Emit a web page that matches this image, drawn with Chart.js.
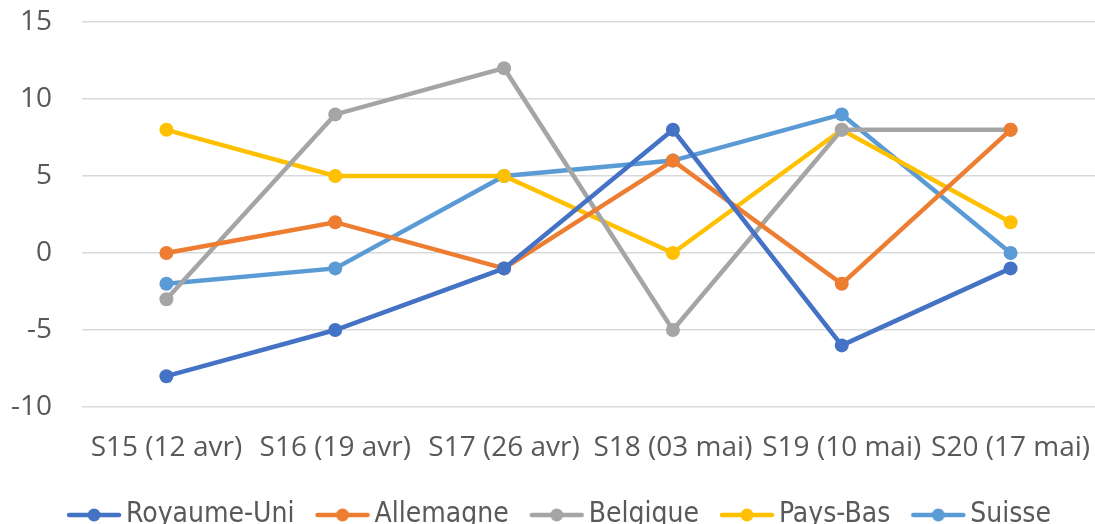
<!DOCTYPE html>
<html><head><meta charset="utf-8">
<script src="https://cdn.jsdelivr.net/npm/chart.js@4/dist/chart.umd.min.js"></script>
<style>html,body{margin:0;padding:0;background:#fff}#wrap{width:1095px;height:524px}</style>
</head><body><div id="wrap"><canvas id="c" width="1095" height="524"></canvas></div>
<script>
const categories = ["S15 (12 avr)","S16 (19 avr)","S17 (26 avr)","S18 (03 mai)","S19 (10 mai)","S20 (17 mai)"];
const royaumeUni = [-8,-5,-1,8,-6,-1];
const allemagne = [0,2,-1,6,-2,8];
const belgique = [-3,9,12,-5,8,8];
const paysBas = [8,5,5,0,8,2];
const suisse = [-2,-1,5,6,9,0];
const yTicks = [-10,-5,0,5,10,15];

const seriesNames = ["Royaume-Uni","Allemagne","Belgique","Pays-Bas","Suisse"];
const seriesData = [royaumeUni,allemagne,belgique,paysBas,suisse];
const colors = ["#4472C4","#ED7D31","#A5A5A5","#FFC000","#5B9BD5"];

function legendIcon(col){
  const cv=document.createElement('canvas');cv.width=56;cv.height=16;
  const g=cv.getContext('2d');
  g.strokeStyle=col;g.lineWidth=4.5;g.lineCap='round';
  g.beginPath();g.moveTo(3,8);g.lineTo(53,8);g.stroke();
  g.fillStyle=col;g.beginPath();g.arc(28,8,6.5,0,Math.PI*2);g.fill();
  return cv;
}
const icons = colors.map(legendIcon);
const tickFont = {family:"'Open Sans', sans-serif",size:28};

const shiftLegend={id:'shiftLegend',afterLayout(ch){ch.legend.left+=16;ch.legend.right+=16;}};

new Chart(document.getElementById('c'),{
  type:'line',
  data:{labels:categories,datasets:seriesNames.map((n,i)=>({
    label:n,data:seriesData[i],borderColor:colors[i],backgroundColor:colors[i],
    borderWidth:4.5,pointRadius:7,pointHoverRadius:7,pointBorderWidth:0,tension:0,clip:false
  }))},
  plugins:[shiftLegend],
  options:{
    responsive:false,animation:false,
    layout:{autoPadding:false,padding:{top:0,right:0,left:0,bottom:-15}},
    plugins:{
      tooltip:{enabled:false},
      legend:{position:'bottom',
        labels:{usePointStyle:true,pointStyleWidth:36,boxHeight:16,padding:30,color:'#595959',
          font:{family:"'DejaVu Sans Condensed','Liberation Sans Narrow',sans-serif",size:28},
          generateLabels:(chart)=>chart.data.datasets.map((d,i)=>({text:d.label,pointStyle:icons[i],fillStyle:colors[i],strokeStyle:colors[i],lineWidth:0,fontColor:'#595959',datasetIndex:i,hidden:false}))
        }}
    },
    scales:{
      x:{offset:true,grid:{display:false},border:{display:false},
        afterFit:(ax)=>{ax.height=64;ax.paddingLeft=0;ax.paddingRight=0;},
        ticks:{color:'#595959',padding:16,maxRotation:0,font:tickFont}},
      y:{min:-10,max:15,
        afterBuildTicks:(ax)=>{ax.ticks=yTicks.map(v=>({value:v}));},
        afterFit:(ax)=>{ax.width=82;ax.paddingTop=22;ax.paddingBottom=0;},
        grid:{color:'#D9D9D9',lineWidth:1.5,drawTicks:false},border:{display:false},
        ticks:{color:'#595959',padding:30,font:tickFont}}
    }
  }
});
</script></body></html>
